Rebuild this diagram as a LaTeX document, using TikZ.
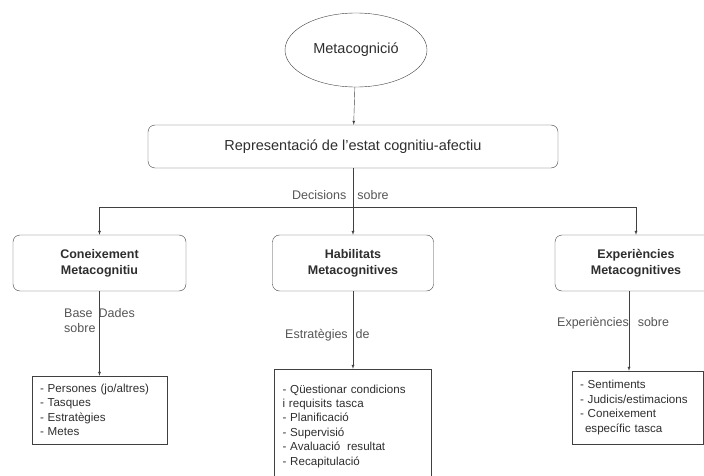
\documentclass[tikz,border=0pt]{standalone}
\usepackage{fontspec}
\setmainfont{Liberation Sans}
\usepackage{tikz}
\usetikzlibrary{shapes.geometric}
\definecolor{txtgray}{HTML}{2E2E2E}
\definecolor{labgray}{HTML}{555555}
\definecolor{linegray}{HTML}{404040}
\tikzset{mybox/.style={draw=linegray,rounded corners=7pt,align=center,minimum height=56pt,text=txtgray,font=\fontsize{12.5}{16}\selectfont\bfseries},
mylist/.style={draw=linegray,align=left,text=txtgray,inner ysep=0pt,inner xsep=8pt,font=\fontsize{11.6}{14.4}\selectfont},
mylabel/.style={text=labgray,align=left,inner sep=0pt,font=\fontsize{12.5}{15}\selectfont},
myarrow/.style={draw=linegray,-latex}}

\begin{document}
\begin{tikzpicture}[x=1pt,y=-1pt]
\useasboundingbox (0,0) rectangle (704,476);
\node[draw=linegray,ellipse,minimum width=142pt,minimum height=74pt,text=txtgray,font=\fontsize{14.5}{16}\selectfont] (meta) at (356,50) {Metacognició};
\node[mybox,font=\fontsize{14.5}{16}\selectfont,minimum width=410pt,minimum height=43pt] (rep) at (353,146.5) {Representació de l'estat cognitiu-afectiu};
\coordinate (split) at (353,207);
\node[mybox,minimum width=173pt] (con) at (99.5,263) {Coneixement\\Metacognitiu};
\node[mybox,minimum width=161pt] (hab) at (353,263) {Habilitats\\Metacognitives};
\node[mybox,minimum width=162pt] (exp) at (636,263) {Experiències\\Metacognitives};
\node[mylist,text width=119pt,minimum height=68pt] (conl) at (99.5,410) {- Persones (jo/altres)\\- Tasques\\- Estratègies\\- Metes};
\node[mylist,text width=141pt,minimum height=114pt] (habl) at (353,426) {- Qüestionar condicions\\i requisits tasca\\- Planificació\\- Supervisió\\- Avaluació\hspace{3pt} resultat\\- Recapitulació};
\node[mylist,text width=115pt,minimum height=73pt] (expl) at (637.5,407.5) {- Sentiments\\- Judicis/estimacions\\- Coneixement\\\hspace{5pt}específic tasca};
\draw[myarrow] (meta) -- (rep);
\draw[draw=linegray] (rep) -- (split);
\draw[myarrow] (split) -| (con);
\draw[myarrow] (split) -| (exp);
\draw[myarrow] (split) -- (hab);
\draw[myarrow] (con) -- (conl);
\draw[myarrow] (hab) -- (habl);
\draw[myarrow] (exp.south -| 629,0) -- (expl.north -| 629,0);
\node[mylabel,anchor=base west] (lab1) at (292,199) {Decisions\hspace{11pt}sobre};
\node[mylabel,anchor=base west] (lab2) at (64,332) {Base\hspace{6pt}Dades\\sobre};
\node[mylabel,anchor=base west] (lab3) at (285,338) {Estratègies\hspace{8pt}de};
\node[mylabel,anchor=base west] (lab4) at (557,326) {Experiències\hspace{9pt}sobre};
\end{tikzpicture}
\end{document}
